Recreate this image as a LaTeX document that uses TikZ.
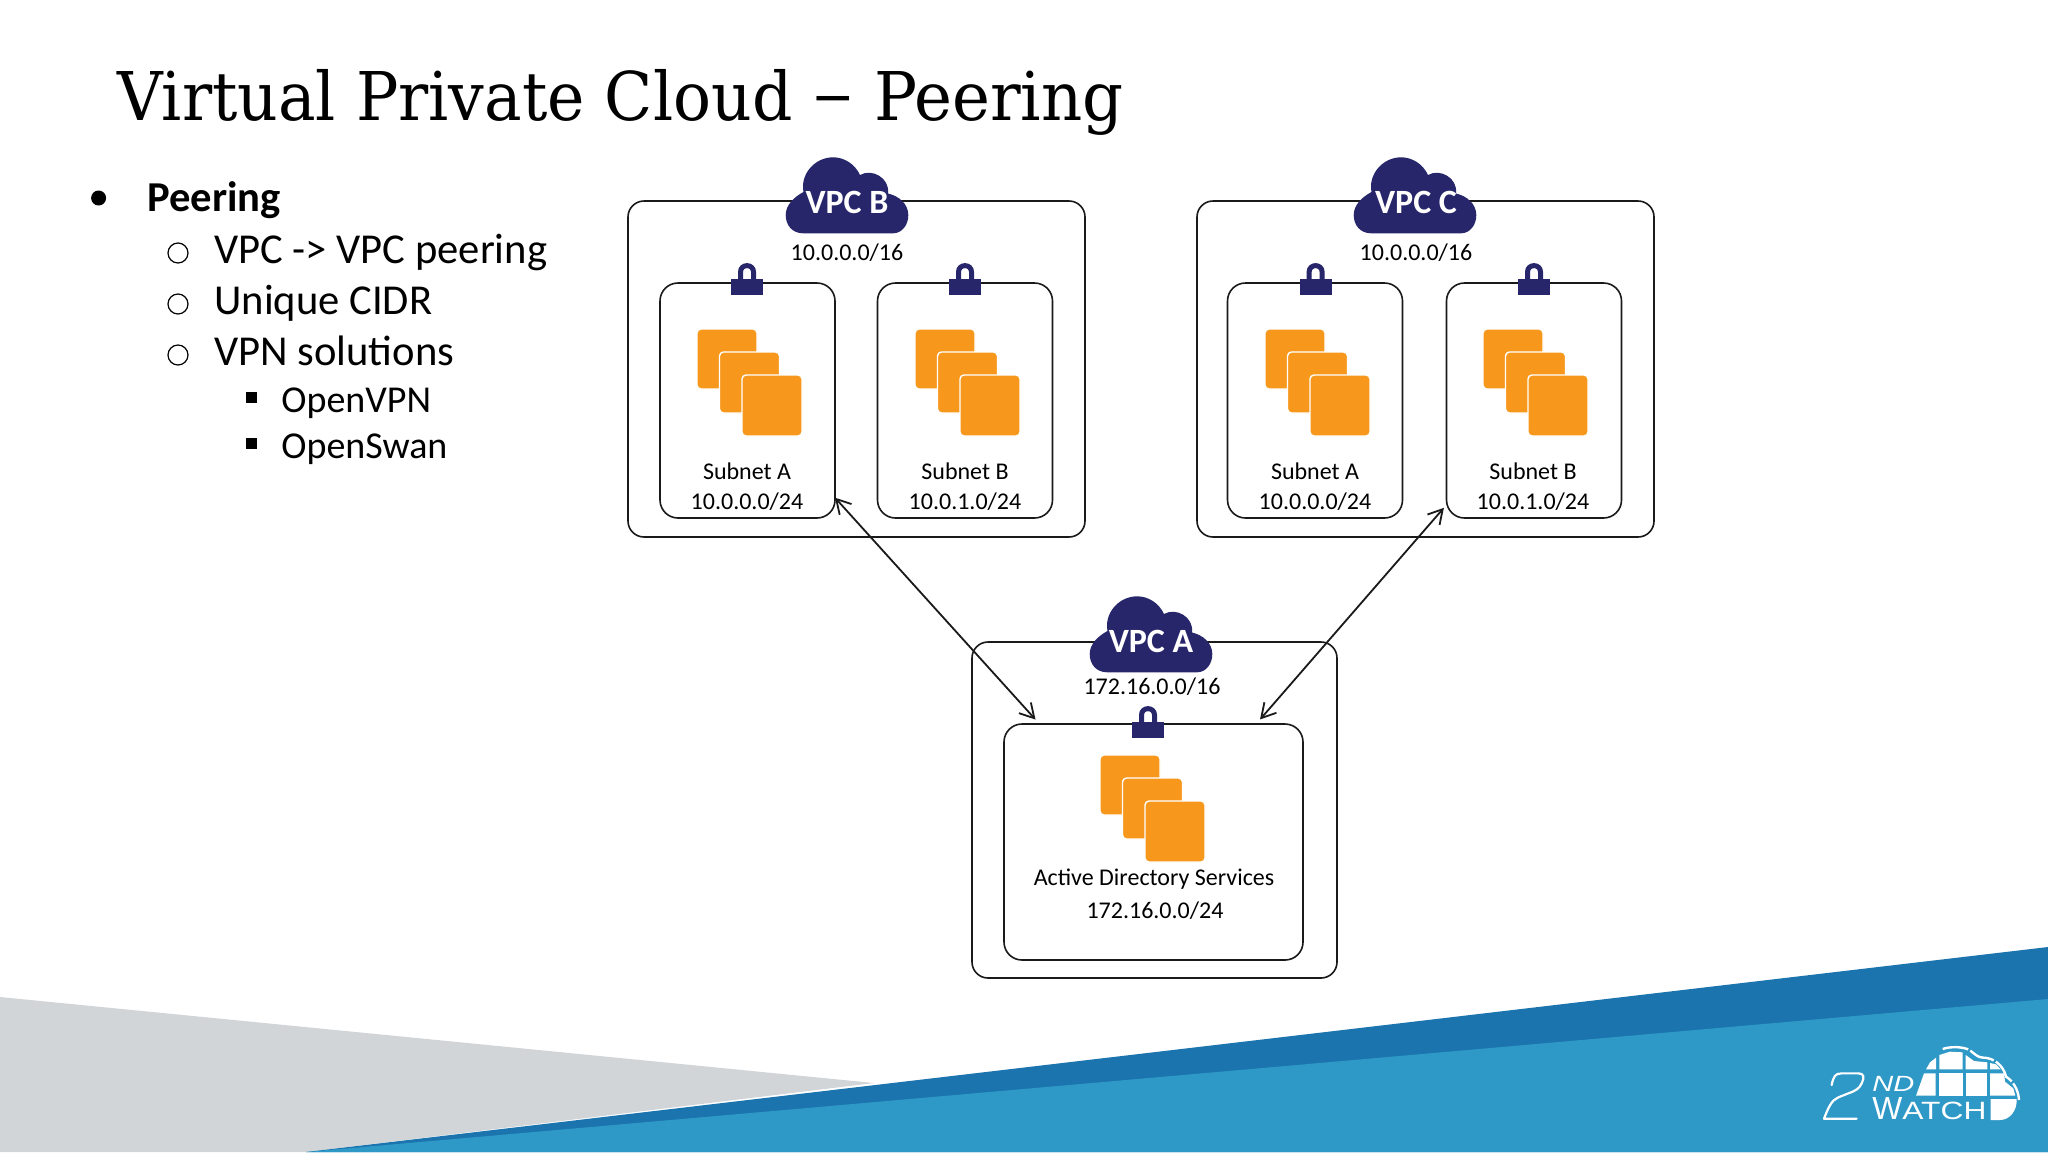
\documentclass[tikz,border=0pt]{standalone}
\usepackage{fontspec}
\usepackage{graphicx}
\usetikzlibrary{arrows.meta}
\setmainfont{Carlito}
\newfontfamily\titlefont{DejaVu Serif}
\newfontfamily\logofont{Liberation Sans}
\definecolor{navy}{HTML}{27266B}
\definecolor{awsorange}{HTML}{F7981D}
\definecolor{slidegray}{HTML}{D1D5D8}
\definecolor{darkblue}{HTML}{1B74AE}
\definecolor{lightblue}{HTML}{2E98C7}
\definecolor{boxline}{HTML}{1A1A1A}
\newcommand{\fsz}[1]{\fontsize{#1pt}{#1pt}\selectfont}
\newcommand{\cloudicon}[2]{%
  \fill[navy,shift={(#1,#2)}] (-43.7,38.3) .. controls (-55,38.3) and (-61.3,30) .. (-61.3,20)
    .. controls (-61.3,10) and (-53,2) .. (-43.5,-3)
    .. controls (-47,-20) and (-33,-37.7) .. (-13.7,-37.7)
    .. controls (-3,-37.7) and (8,-31) .. (13,-20)
    .. controls (25,-27) and (43,-17) .. (41,-1.5)
    .. controls (52,1) and (61.3,9) .. (61.3,20)
    .. controls (61.3,30) and (55,38.3) .. (46,38.3) -- cycle;}
\newcommand{\lockicon}[2]{%
  \begin{scope}[shift={(#1,#2)}]
    \fill[navy] (-16,0) rectangle (16,16);
    \draw[navy,line width=2.5pt] (-6.5,2) -- (-6.5,-7) .. controls (-6.5,-15.5) and (6.5,-15.5) .. (6.5,-7) -- (6.5,2);
  \end{scope}}
\newcommand{\stackicon}[2]{%
  \begin{scope}[shift={(#1,#2)}]
    \filldraw[orangesq] (0,0) rectangle (60,60);
    \filldraw[orangesq] (22.5,23) rectangle (82.5,84);
    \filldraw[orangesq] (45,46) rectangle (105,107);
  \end{scope}}
\tikzset{
  x=.5pt,y=-.5pt,
  outerbox/.style={draw=boxline,line width=.8pt,rounded corners=8pt,inner sep=0pt,outer sep=0pt,minimum width=228.5pt,minimum height=168pt},
  subbox/.style={draw=boxline,line width=.8pt,rounded corners=9pt,inner sep=0pt,outer sep=0pt,minimum width=87.5pt,minimum height=117.5pt},
  orangesq/.style={fill=awsorange,draw=white,line width=.7pt,rounded corners=2pt},
  small/.style={inner sep=0pt,font=\fsz{12},text=black},
  vpclabel/.style={inner sep=0pt,font=\fsz{17}\bfseries,text=white},
  bodyone/.style={inner sep=0pt,anchor=base west,font=\fsz{21.3}},
  bodytwo/.style={inner sep=0pt,anchor=base west,font=\fsz{19}},
  peer/.style={draw=boxline,line width=.9pt,{Straight Barb[length=7pt,width=8pt]}-{Straight Barb[length=7pt,width=8pt]}},
  logoline/.style={draw=white,line width=1.1pt,line join=round,line cap=round},
}
\begin{document}
\begin{tikzpicture}
\useasboundingbox (0,0) rectangle (2048,1152);
\fill[white] (0,0) rectangle (2048,1152);

% footer bands
\fill[slidegray] (0,997) -- (874,1083) -- (306,1152) -- (0,1152) -- cycle;
\fill[darkblue] (306,1152) -- (2048,947) -- (2048,1152) -- cycle;
\fill[lightblue] (306,1152) -- (2048,999) -- (2048,1152) -- cycle;

% title
\node[inner sep=0pt,anchor=base west] (title) at (117,120)
  {\titlefont\fsz{33.6}\resizebox{337.5pt}{\height}{Virtual Private Cloud}\hspace{10.7pt}\raisebox{2pt}{\resizebox{19.75pt}{\height}{–}}\hspace{10.35pt}\resizebox{124.7pt}{\height}{Peering}};

% bullet list
\fill[black] (98.6,198) circle[radius=7.5];
\node[bodyone,font=\fsz{21.3}\bfseries] (peering) at (147,211) {Peering};
\draw[black,line width=.6pt] (178,253) circle[radius=10];
\node[bodyone] (l1) at (214,263) {VPC -> VPC peering};
\draw[black,line width=.6pt] (178,304) circle[radius=10];
\node[bodyone] (l2) at (214,314) {Unique CIDR};
\draw[black,line width=.6pt] (178,355) circle[radius=10];
\node[bodyone] (l3) at (214,365) {VPN solutions};
\fill[black] (246,392) rectangle (257,403);
\node[bodytwo] (l4) at (281,412) {OpenVPN};
\fill[black] (246,438) rectangle (257,449);
\node[bodytwo] (l5) at (281,458) {OpenSwan};

% boxes
\node[outerbox] (vpcB) at (856.5,369) {};
\node[outerbox] (vpcC) at (1425.5,369) {};
\node[outerbox,minimum width=182.5pt] (vpcA) at (1154.5,810) {};
\node[subbox] (bA) at (747.5,400.5) {};
\node[subbox] (bB) at (965,400.5) {};
\node[subbox] (cA) at (1315,400.5) {};
\node[subbox] (cB) at (1534,400.5) {};
\node[subbox,minimum width=149.5pt,minimum height=118pt] (ad) at (1153.5,842) {};

% clouds
\cloudicon{847}{195}
\cloudicon{1415}{195}
\cloudicon{1151}{634}
\node[vpclabel] (vpcBl) at (847,202) {VPC B};
\node[vpclabel] (vpcCl) at (1416,202) {VPC C};
\node[vpclabel] (vpcAl) at (1151,641) {VPC A};
\node[small] (cidrB) at (847,253) {10.0.0.0/16};
\node[small] (cidrC) at (1416,253) {10.0.0.0/16};
\node[small] (cidrA) at (1152,687) {172.16.0.0/16};

% locks
\lockicon{747}{279}
\lockicon{965}{279}
\lockicon{1315.6}{279}
\lockicon{1534}{279}
\lockicon{1148}{722}

% instance stacks
\stackicon{697}{329}
\stackicon{915}{329}
\stackicon{1265}{329}
\stackicon{1483}{329}
\stackicon{1100}{755}

% subnet labels
\node[small] (bAn) at (747,471) {Subnet A};
\node[small] (bAc) at (747,502) {10.0.0.0/24};
\node[small] (bBn) at (965,471) {Subnet B};
\node[small] (bBc) at (965,502) {10.0.1.0/24};
\node[small] (cAn) at (1315,471) {Subnet A};
\node[small] (cAc) at (1315,502) {10.0.0.0/24};
\node[small] (cBn) at (1533,471) {Subnet B};
\node[small] (cBc) at (1533,502) {10.0.1.0/24};
\node[small] (adn) at (1154,879) {Active Directory Services};
\node[small] (adc) at (1155,911) {172.16.0.0/24};

% peering connectors
\draw[peer,shorten >=3pt] (bA.-48) -- (ad.134.6);
\draw[peer,shorten >=3pt,shorten <=2pt] (cB.230.2) -- (ad.49);

% logo: the numeral
\begin{scope}[shift={(1780,1020)},xscale=1/3,yscale=1/3]
  \draw[logoline] (155,195) .. controls (160,170) and (165,160) .. (185,160) -- (235,160)
     .. controls (252,160) and (254,172) .. (245,190) .. controls (238,205) and (228,212) .. (205,220)
     -- (175,232) .. controls (155,240) and (145,262) .. (132,296) -- (230,296);
\end{scope}
\node[inner sep=0pt,anchor=base west,text=white] (logoND) at (1872,1091)
  {\resizebox{21pt}{\height}{\logofont\itshape\fsz{11}ND}};
\node[inner sep=0pt,anchor=base west,text=white] (logoW) at (1872,1119)
  {\logofont\fsz{16}\resizebox{15pt}{\height}{W}\resizebox{42pt}{\height}{\fsz{12.5}ATCH}};

% logo: the cloud
\begin{scope}[shift={(1900,1035)},xscale=1/3,yscale=1/3]
  \fill[white] (78,103) -- (90,82) -- (108,68) -- (108,103) -- cycle;
  \fill[white] (118,60) -- (150,50) -- (188,52) -- (188,103) -- (118,103) -- cycle;
  \fill[white] (197,60) -- (222,78) -- (262,82) -- (262,103) -- (197,103) -- cycle;
  \fill[white] (270,84) -- (288,88) -- (302,103) -- (270,103) -- cycle;
  \fill[white] (72,115) -- (107,115) -- (107,182) -- (48,182) -- cycle;
  \fill[white] (118,115) rectangle (188,182);
  \fill[white] (197,115) rectangle (262,182);
  \fill[white] (270,115) -- (312,115) -- (315,140) -- (340,160) -- (346,182) -- (270,182) -- cycle;
  \fill[white] (272,192) -- (350,192) .. controls (352,225) and (330,255) .. (300,255) -- (272,255) -- cycle;
  \draw[draw=white,line width=1.2pt,dash pattern=on 13pt off 1.2pt]
     (128,42) .. controls (150,34) and (190,34) .. (210,46) .. controls (225,58) and (235,68) .. (250,68)
     .. controls (280,68) and (310,90) .. (318,125) .. controls (335,135) and (355,160) .. (357,195);
\end{scope}
\end{tikzpicture}
\end{document}
